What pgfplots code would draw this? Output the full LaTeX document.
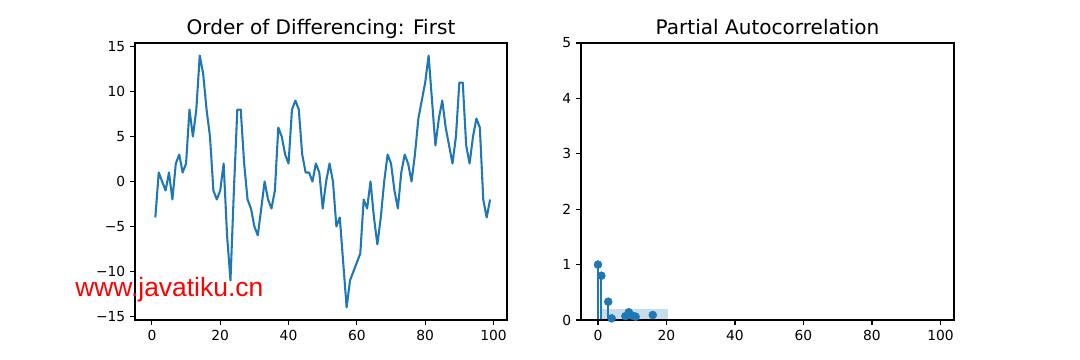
\documentclass[border=0pt]{standalone}
\usepackage{fontspec}
\setmainfont{DejaVu Sans}
\newfontfamily\wmfont{Liberation Sans}
\usepackage{pgfplots}
\pgfplotsset{compat=1.18}
\definecolor{C0}{RGB}{31,119,180}

\pgfplotsset{
  mplstyle/.style={
    scale only axis,
    anchor=south west,
    axis line style={line width=0.8pt, black},
    every tick/.style={line width=0.8pt, black},
    tick align=outside,
    major tick length=3.5pt,
    xtick pos=bottom, ytick pos=left,
    tick label style={font=\fontsize{10}{12}\selectfont},
    /pgf/number format/assume math mode=true,
    title style={font=\fontsize{14.5}{17}\selectfont, anchor=base, at={(0.5,1)}, yshift=0pt},
    xmin=-4.95, xmax=103.95,
    xtick={0,20,40,60,80,100},
    axis on top=true,
  }
}

\begin{document}
\begin{tikzpicture}
\path[use as bounding box] (0,0) rectangle (10.8in,3.6in);

\begin{axis}[mplstyle,
  at={(1.35in,0.40in)}, width=3.72in, height=2.77in,
  ymin=-15.4, ymax=15.4,
  ytick={-15,-10,-5,0,5,10,15},
  yticklabels={−15,−10,−5,0,5,10,15},
  title={Order of Differencing: First}]
\addplot[C0, line width=1.5pt, line join=round] coordinates {
(1,-4)(2,1)(3,0)(4,-1)(5,1)(6,-2)(7,2)(8,3)(9,1)(10,2)
(11,8)(12,5)(13,8)(14,14)(15,12)(16,8)(17,5)(18,-1)(19,-2)(20,-1)
(21,2)(22,-6)(23,-11)(24,-1)(25,8)(26,8)(27,2)(28,-2)(29,-3)(30,-5)
(31,-6)(32,-3)(33,0)(34,-2)(35,-3)(36,-1)(37,6)(38,5)(39,3)(40,2)
(41,8)(42,9)(43,8)(44,3)(45,1)(46,1)(47,0)(48,2)(49,1)(50,-3)
(51,0)(52,2)(53,0)(54,-5)(55,-4)(56,-9)(57,-14)(58,-11)(59,-10)(60,-9)
(61,-8)(62,-2)(63,-3)(64,0)(65,-4)(66,-7)(67,-4)(68,0)(69,3)(70,2)
(71,-1)(72,-3)(73,1)(74,3)(75,2)(76,0)(77,3)(78,7)(79,9)(80,11)
(81,14)(82,9)(83,4)(84,7)(85,9)(86,6)(87,4)(88,2)(89,5)(90,11)
(91,11)(92,4)(93,2)(94,5)(95,7)(96,6)(97,-2)(98,-4)(99,-2)
};
\end{axis}

\begin{axis}[mplstyle,
  at={(5.81in,0.40in)}, width=3.73in, height=2.77in,
  ymin=0, ymax=5,
  ytick={0,1,2,3,4,5},
  title={Partial Autocorrelation}]
\addplot[C0, line width=1.5pt] coordinates {(-4.95,0)(103.95,0)};
\addplot[ycomb, C0, line width=1.5pt, mark=*, mark size=2.9pt,
  mark options={fill=C0, draw=C0, line width=0.3pt}] coordinates {
(0,1.0)(1,0.80)(2,-0.35)(3,0.33)(4,0.03)(5,-0.10)(6,-0.15)(7,-0.05)
(8,0.07)(9,0.14)(10,0.08)(11,0.06)(12,-0.08)(13,-0.12)(14,-0.05)
(15,-0.10)(16,0.09)(17,-0.06)(18,-0.10)(19,-0.04)(20,-0.08)
};
\addplot[fill=C0, fill opacity=0.25, draw=none] coordinates {
(0.5,0.197)(20.5,0.197)} \closedcycle;
\end{axis}

\node[anchor=base west, inner sep=0pt, text=red,
  font=\wmfont\fontsize{19.1}{21}\selectfont] at (0.75in,0.63in) {www.javatiku.cn};
\end{tikzpicture}
\end{document}
